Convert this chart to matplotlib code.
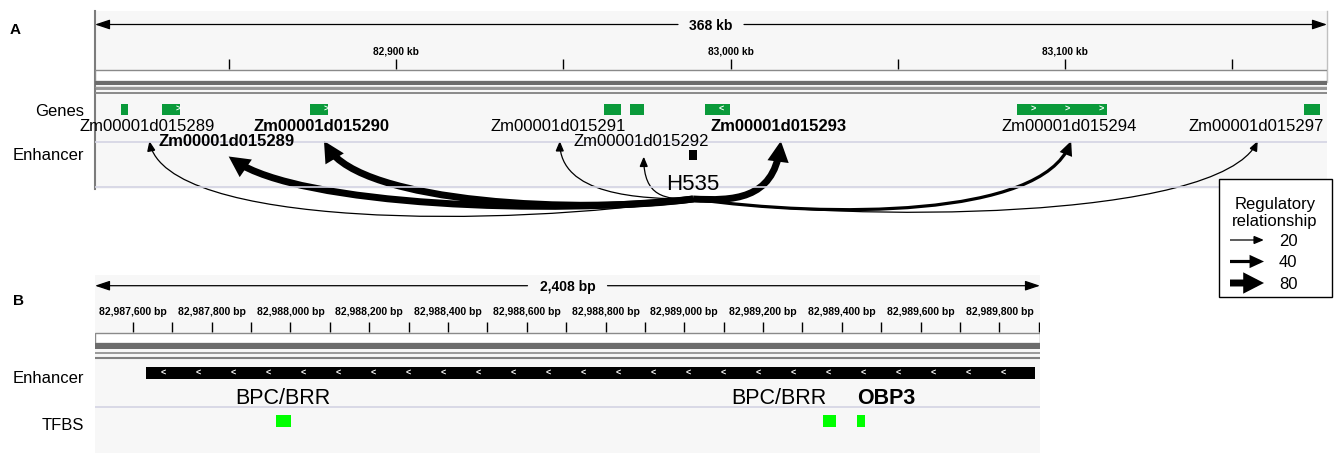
import numpy as np
import matplotlib
matplotlib.use('Agg')
import matplotlib.pyplot as plt
from matplotlib.patches import Rectangle, FancyArrowPatch, ArrowStyle
from matplotlib.path import Path

plt.rcParams['font.family'] = ['Liberation Sans', 'DejaVu Sans']

# ---- panel A : 368 kb window (positions in kb) ----
view_a = (82809.93, 83178.3)
span_a_label = '368 kb'
ruler_a_ticks = [82850, 82900, 82950, 83000, 83050, 83100, 83150]
ruler_a_label_pos = [82900, 83000, 83100]
ruler_a_labels = ['82,900 kb', '83,000 kb', '83,100 kb']

gene_start = [82817.6, 82830.0, 82874.2, 82962.1, 82969.9, 82992.4, 83085.6, 83171.5]
gene_end = [82819.7, 82835.4, 82879.5, 82967.2, 82974.0, 82999.8, 83112.5, 83176.3]
gene_strand = ['.', '+', '+', '.', '.', '-', '+', '.']

label_text = ['Zm00001d015289', 'Zm00001d015290', 'Zm00001d015291', 'Zm00001d015293',
              'Zm00001d015294', 'Zm00001d015297', 'Zm00001d015289', 'Zm00001d015292']
label_pos = [82825.6, 82877.8, 82948.3, 83014.4, 83101.2, 83157.0, 82849.3, 82973.4]
label_row = [0, 0, 0, 0, 0, 0, 1, 1]
label_bold = [False, True, False, True, False, False, True, False]

enh_name = 'H535'
enh_start = 82987633   # bp
enh_end = 82989890

# enhancer -> gene links (index into labels) and their scores
link_target = [0, 6, 1, 2, 7, 3, 4, 5]
link_score = [20, 80, 80, 20, 20, 80, 40, 20]
legend_scores = [20, 40, 80]

# ---- panel B : 2,408 bp window (positions in bp) ----
view_b = (82987504, 82989903)
span_b_label = '2,408 bp'
ruler_b_ticks = [82987600, 82987700, 82987800, 82987900, 82988000, 82988100, 82988200, 82988300,
                 82988400, 82988500, 82988600, 82988700, 82988800, 82988900, 82989000, 82989100,
                 82989200, 82989300, 82989400, 82989500, 82989600, 82989700, 82989800, 82989900]
ruler_b_label_pos = [82987600, 82987800, 82988000, 82988200, 82988400, 82988600,
                     82988800, 82989000, 82989200, 82989400, 82989600, 82989800]
ruler_b_labels = ['82,987,600 bp', '82,987,800 bp', '82,988,000 bp', '82,988,200 bp',
                  '82,988,400 bp', '82,988,600 bp', '82,988,800 bp', '82,989,000 bp',
                  '82,989,200 bp', '82,989,400 bp', '82,989,600 bp', '82,989,800 bp']

tfbs_start = [82987963, 82989351, 82989439]
tfbs_end = [82988001, 82989386, 82989458]
tfbs_name = ['BPC/BRR', 'BPC/BRR', 'OBP3']
tfbs_label_pos = [82987982, 82989241, 82989513]
tfbs_bold = [False, False, True]

# ---- styling ----
W, H = 1335, 453
bg = '#f7f7f7'
sep = '#d3d3e3'
gene_green = '#0a9a3a'
line_w = {20: 0.9, 40: 2.3, 80: 5.0}
head = {20: (6.0, 2.5), 40: (6.5, 3.0), 80: (7.0, 3.6)}
# cubic control points per link: (frac x, y, frac x, y)
arc_shape = [(0.35, 228, 0.97, 228), (0.30, 215, 0.846, 206), (0.30, 214, 0.898, 204),
             (0.41, 199, 1.0, 195), (0.57, 199.5, 1.0, 197), (0.45, 201, 0.91, 200),
             (0.36, 218, 0.92, 218), (0.275, 222, 0.93, 222)]
row_base = [130.7, 146.5]
row_tip = [141.0, 156.5]

fig = plt.figure(figsize=(W / 100, H / 100), dpi=100)


def px_axes(x0, x1, y0, y1):
    ax = fig.add_axes([x0 / W, 1 - y1 / H, (x1 - x0) / W, (y1 - y0) / H])
    ax.set_ylim(y1, y0)
    ax.axis('off')
    return ax


def link_arrow(path=None, posA=None, posB=None, score=20):
    hl, hw = head[score]
    return FancyArrowPatch(path=path, posA=posA, posB=posB, shrinkA=0, shrinkB=0,
                           arrowstyle=ArrowStyle('-|>', head_length=hl, head_width=hw),
                           mutation_scale=1, lw=line_w[score], color='black',
                           joinstyle='miter', capstyle='butt', clip_on=False)


def ruler(ax, view, y_line, label, gap, ticks, tick_y, label_pos, labels, label_y, fs):
    cx = (view[0] + view[1]) / 2
    for end, start in [(view[0], cx - gap), (view[1], cx + gap)]:
        ax.annotate('', xy=(end, y_line), xytext=(start, y_line),
                    arrowprops=dict(arrowstyle='-|>,head_length=0.9,head_width=0.3',
                                    lw=0.9, color='black', shrinkA=0, shrinkB=0,
                                    mutation_scale=10), annotation_clip=False)
    ax.text(cx, y_line + 5.3, label, ha='center', va='baseline', fontsize=10, fontweight='bold')
    ax.vlines(ticks, tick_y[0], tick_y[1], color='black', lw=1)
    for t, lab in zip(label_pos, labels):
        ax.text(t, label_y, lab, ha='center', va='baseline', fontsize=fs, fontweight='bold')


# ================= panel A =================
ax_a = px_axes(95, 1327, 5, 232)
ax_a.set_xlim(*view_a)
wa = view_a[1] - view_a[0]
kb_px = wa / 1232.0
ax_a.add_patch(Rectangle((view_a[0], 10.5), wa, 178, fc=bg, ec='none', zorder=0))
ax_a.plot([view_a[0], view_a[0]], [11, 189], color='#7c7c7c', lw=1.5, clip_on=False)
ax_a.plot([view_a[1], view_a[1]], [11, 82], color='#c0c0c0', lw=1, clip_on=False)

ruler(ax_a, view_a, 24.5, span_a_label, 33 * kb_px, ruler_a_ticks, (58.5, 68.5),
      ruler_a_label_pos, ruler_a_labels, 54, 7.3)

ax_a.add_patch(Rectangle((view_a[0], 69.5), wa, 11.3, fc='white', ec='#8a8a8a', lw=1, zorder=2))
ax_a.add_patch(Rectangle((view_a[0], 80.8), wa, 3.7, fc='#6c6c6c', ec='none', zorder=2))
ax_a.hlines([86.5], *view_a, color='#9a9a9a', lw=1)
ax_a.hlines([89.4], *view_a, color='#808080', lw=1.1)
ax_a.hlines([93.0], *view_a, color='#8a8a8a', lw=1.4)
ax_a.hlines([141.5, 186.8], *view_a, color=sep, lw=1.2)

# genes
ax_a.broken_barh([(s, e - s) for s, e in zip(gene_start, gene_end)], (103.5, 11),
                 facecolors=gene_green, zorder=3)
for s, e, st in zip(gene_start, gene_end, gene_strand):
    if st == '.':
        continue
    for c in np.arange(s + 16 * kb_px, e - 1 * kb_px, 34 * kb_px):
        ax_a.text(c, 109, '>' if st == '+' else '<', color='white', fontsize=6.5,
                  fontweight='bold', ha='center', va='center', zorder=4)

for txt, x, r, b in zip(label_text, label_pos, label_row, label_bold):
    ax_a.text(x, row_base[r], txt, ha='center', va='baseline', fontsize=12,
              fontweight='bold' if b else 'normal', zorder=5)

# enhancer
ax_a.add_patch(Rectangle((enh_start / 1000, 149.5), (enh_end - enh_start) / 1000, 10.5,
                         fc='black', ec='none', zorder=3))
x0 = (enh_start + enh_end) / 2000.0
ax_a.text(x0, 190, enh_name, ha='center', va='baseline', fontsize=16, zorder=5)

# links
y0 = 199
for k, (ti, sc) in enumerate(zip(link_target, link_score)):
    xt = label_pos[ti] + 2 * kb_px
    yt = row_tip[label_row[ti]]
    f1, y1, f2, y2 = arc_shape[k]
    verts = [(x0, y0), (x0 + f1 * (xt - x0), y1), (x0 + f2 * (xt - x0), y2), (xt, yt)]
    p = Path(verts, [Path.MOVETO, Path.CURVE4, Path.CURVE4, Path.CURVE4])
    ax_a.add_patch(link_arrow(path=p, score=sc))

# ================= panel B =================
ax_b = px_axes(95, 1040, 270, 453)
ax_b.set_xlim(*view_b)
wb = view_b[1] - view_b[0]
bp_px = wb / 945.0
ax_b.add_patch(Rectangle((view_b[0], 275), wb, 178, fc=bg, ec='none', zorder=0))

ruler(ax_b, view_b, 285.7, span_b_label, 40 * bp_px, ruler_b_ticks, (321.7, 331.7),
      ruler_b_label_pos, ruler_b_labels, 315.3, 7.5)
ax_b.add_patch(Rectangle((view_b[0], 333.3), wb, 10, fc='white', ec='#8a8a8a', lw=1, zorder=2))
ax_b.add_patch(Rectangle((view_b[0], 343.3), wb, 5.2, fc='#6c6c6c', ec='none', zorder=2))
ax_b.hlines([353.0], *view_b, color='#8a8a8a', lw=1.2)
ax_b.hlines([357.8], *view_b, color='#808080', lw=1.5)
ax_b.hlines([406.5], *view_b, color=sep, lw=1.2)

ax_b.add_patch(Rectangle((enh_start, 366.7), enh_end - enh_start, 12.3, fc='black',
                         ec='none', zorder=3))
for c in np.arange(enh_start + 17 * bp_px, enh_end - 5 * bp_px, 35 * bp_px):
    ax_b.text(c, 372.8, '<', color='white', fontsize=6.5, fontweight='bold',
              ha='center', va='center', zorder=4)

for txt, x, b in zip(tfbs_name, tfbs_label_pos, tfbs_bold):
    ax_b.text(x, 404.3, txt, ha='center', va='baseline', fontsize=15.5,
              fontweight='bold' if b else 'normal')
ax_b.broken_barh([(s, e - s) for s, e in zip(tfbs_start, tfbs_end)], (415, 11.7),
                 facecolors='#00ff00', zorder=3)

# ================= overlay: panel letters, track names, legend =================
ax0 = fig.add_axes([0, 0, 1, 1], zorder=5)
ax0.set_xlim(0, W)
ax0.set_ylim(H, 0)
ax0.axis('off')
ax0.patch.set_alpha(0)

ax0.text(10, 33.5, 'A', fontsize=11, fontweight='bold', va='baseline')
ax0.text(13, 305, 'B', fontsize=11, fontweight='bold', va='baseline')
for name, yb in [('Genes', 116.5), ('Enhancer', 160), ('Enhancer', 383.3), ('TFBS', 430)]:
    ax0.text(84, yb, name, ha='right', va='baseline', fontsize=12)

ax0.add_patch(Rectangle((1218.5, 178.5), 113, 118, fc='white', ec='black', lw=1))
ax0.text(1275, 209, 'Regulatory', ha='center', va='baseline', fontsize=12)
ax0.text(1275, 226, 'relationship', ha='center', va='baseline', fontsize=12)
for sc, yl in zip(legend_scores, [240, 261.5, 283]):
    ax0.add_patch(link_arrow(posA=(1230, yl), posB=(1264, yl), score=sc))
    ax0.text(1279, yl + 5.9, str(sc), ha='left', va='baseline', fontsize=12)

fig.savefig('out.png', dpi=100, facecolor='white')
